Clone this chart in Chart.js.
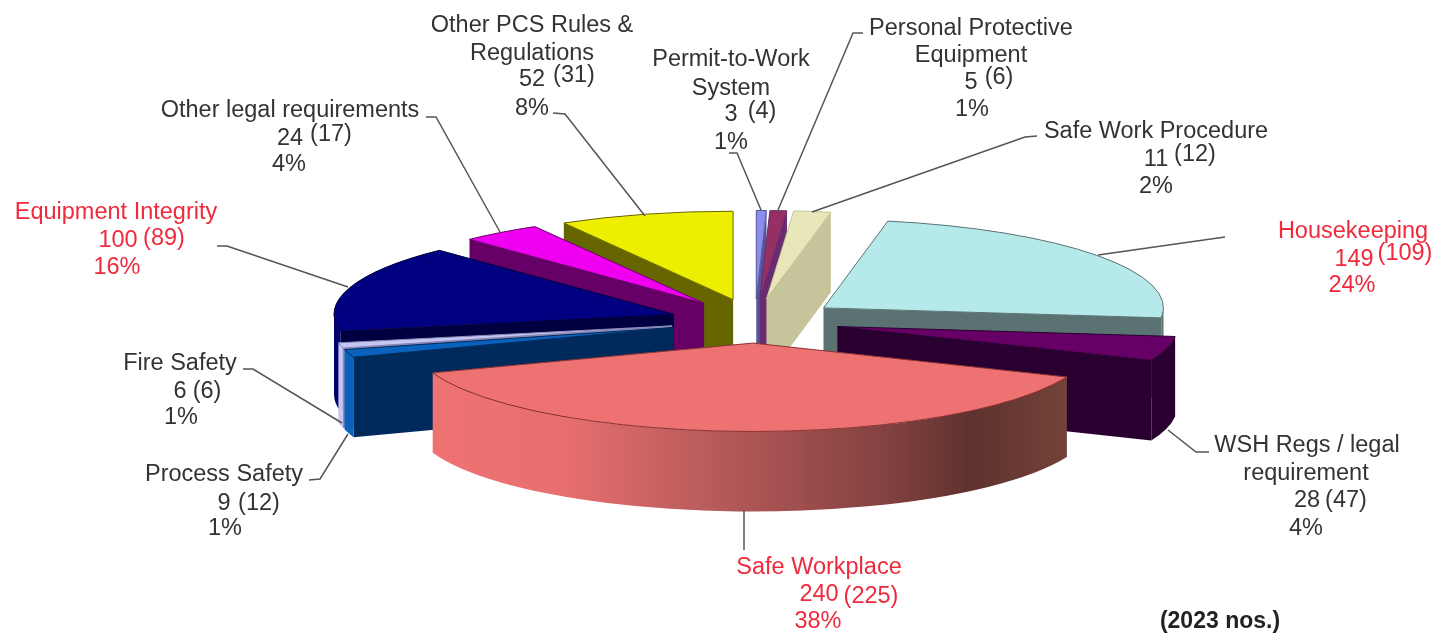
<!DOCTYPE html>
<html>
<head>
<meta charset="utf-8">
<title>Findings by category</title>
<script src="https://cdn.jsdelivr.net/npm/chart.js@4"></script>
<style>
  html, body { margin: 0; padding: 0; background: #fff; }
  canvas { display: block; filter: blur(0.5px); }
</style>
</head>
<body>
<canvas id="pie" width="1434" height="633"></canvas>
<script>
// data, clockwise from 12 o'clock
const categories = ['Permit-to-Work System', 'Personal Protective Equipment', 'Safe Work Procedure', 'Housekeeping', 'WSH Regs / legal requirement', 'Safe Workplace', 'Process Safety', 'Fire Safety', 'Equipment Integrity', 'Other legal requirements', 'Other PCS Rules & Regulations'];
const nameLines = [['Permit-to-Work', 'System'], ['Personal Protective', 'Equipment'], ['Safe Work Procedure'], ['Housekeeping'], ['WSH Regs / legal', 'requirement'], ['Safe Workplace'], ['Process Safety'], ['Fire Safety'], ['Equipment Integrity'], ['Other legal requirements'], ['Other PCS Rules &', 'Regulations']];
const counts = [3, 5, 11, 149, 28, 240, 9, 6, 100, 24, 52];
const prevCounts = [4, 6, 12, 109, 47, 225, 12, 6, 89, 17, 31];
const shares = ['1%', '1%', '2%', '24%', '4%', '38%', '1%', '1%', '16%', '4%', '8%'];
const footnote = '(2023 nos.)';

// colours
const topColors = ['#8c8cee', '#963064', '#e9e7b9', '#b6eaea', '#660066', '#ef7272', '#0a62bc', '#c6c6f4', '#000080', '#f000f0', '#eeee00'];
const wallColors = ['#55559a', '#6a2a70', '#c6c49a', '#5a7272', '#2a0030', '#8a3232', '#002a5c', '#8a8ab8', '#000040', '#660066', '#666600'];
const rimColors = ['#55559a', '#6a2a70', '#c6c49a', '#5a7272', '#2a0030', '#8a3232', '#0a62bc', '#c6c6f4', '#00006c', '#660066', '#666600'];
const redLabels = ['Housekeeping', 'Safe Workplace', 'Equipment Integrity'];

// label spots: [centre x, middle y]
const labelSpots = [
  { name: [[731, 60], [731, 89]], now: [731, 115], prev: [762, 112], pct: [731, 143] },
  { name: [[971, 29], [971, 56]], now: [971, 83], prev: [999, 78], pct: [972, 110] },
  { name: [[1156, 132]], now: [1156, 160], prev: [1195, 155], pct: [1156, 187] },
  { name: [[1353, 232]], now: [1354, 260], prev: [1405, 254], pct: [1352, 286] },
  { name: [[1307, 446], [1306, 474]], now: [1307, 501], prev: [1346, 501], pct: [1306, 529] },
  { name: [[819, 568]], now: [819, 595], prev: [871, 597], pct: [818, 622] },
  { name: [[224, 475]], now: [224, 504], prev: [259, 504], pct: [225, 529] },
  { name: [[180, 364]], now: [180, 392], prev: [207, 392], pct: [181, 418] },
  { name: [[116, 213]], now: [118, 241], prev: [164, 239], pct: [117, 268] },
  { name: [[290, 111]], now: [290, 139], prev: [331, 135], pct: [289, 165] },
  { name: [[532, 26], [532, 54]], now: [532, 80], prev: [574, 76], pct: [532, 109] }
];
const leaders = [
  [[729, 153], [737, 153], [761, 210]],
  [[863, 33], [853, 33], [778, 210]],
  [[1037, 136], [1025, 137], [812, 212]],
  [[1225, 237], [1098, 255]],
  [[1209, 452], [1196, 452], [1168, 430]],
  [[744, 550], [744, 510]],
  [[309, 480], [320, 479], [348, 434]],
  [[243, 369], [253, 369], [342, 423]],
  [[217, 246], [227, 246], [348, 287]],
  [[426, 117], [436, 117], [500, 232]],
  [[553, 113], [565, 114], [645, 216]]
];

const EXPLODE = 85;
const SQUASH = 0.26;
const DEPTH = 80;

// shading across the front wall of the biggest slice
function wallFill(ctx, i, left, right) {
  if (categories[i] !== 'Safe Workplace') return rimColors[i];
  const g = ctx.createLinearGradient(left, 0, right, 0);
  g.addColorStop(0, '#ef7272');
  g.addColorStop(0.2, '#e86f6f');
  g.addColorStop(0.45, '#b65a5a');
  g.addColorStop(0.7, '#864341');
  g.addColorStop(0.85, '#5f322f');
  g.addColorStop(1, '#744238');
  return g;
}

const pie3d = {
  id: 'pie3d',
  beforeDatasetsDraw() { return false; },
  afterDraw(chart) {
    const ctx = chart.ctx;
    const arcs = chart.getDatasetMeta(0).data;
    const order = arcs.map((_, i) => i).sort((a, b) => {
      const midA = (arcs[a].startAngle + arcs[a].endAngle) / 2;
      const midB = (arcs[b].startAngle + arcs[b].endAngle) / 2;
      return Math.sin(midA) - Math.sin(midB);
    });

    order.forEach(i => {
      const arc = arcs[i];
      const a0 = arc.startAngle, a1 = arc.endAngle, r = arc.outerRadius;
      const mid = (a0 + a1) / 2;
      const cx = arc.x + Math.cos(mid) * EXPLODE;
      const cy = arc.y + Math.sin(mid) * EXPLODE * SQUASH;
      const rimX = a => cx + Math.cos(a) * r;
      const rimY = a => cy + Math.sin(a) * r * SQUASH;

      // cut faces
      const cutFace = a => {
        ctx.beginPath();
        ctx.moveTo(cx, cy);
        ctx.lineTo(rimX(a), rimY(a));
        ctx.lineTo(rimX(a), rimY(a) + DEPTH);
        ctx.lineTo(cx, cy + DEPTH);
        ctx.closePath();
        ctx.fillStyle = wallColors[i];
        ctx.fill();
      };
      if (-Math.cos(a0) > 0) cutFace(a0);
      if (Math.cos(a1) > 0) cutFace(a1);

      // outer wall, only the part that faces us
      const lo = Math.max(a0, 0), hi = Math.min(a1, Math.PI);
      if (lo < hi) {
        ctx.beginPath();
        ctx.ellipse(cx, cy, r, r * SQUASH, 0, lo, hi);
        ctx.ellipse(cx, cy + DEPTH, r, r * SQUASH, 0, hi, lo, true);
        ctx.closePath();
        ctx.fillStyle = wallFill(ctx, i, Math.min(rimX(lo), rimX(hi)), Math.max(rimX(lo), rimX(hi)));
        ctx.fill();
      }

      // top face: the library's own arc, flattened
      ctx.save();
      ctx.translate(cx, cy);
      ctx.scale(1, SQUASH);
      ctx.translate(-arc.x, -arc.y);
      arc.draw(ctx);
      ctx.restore();

      // outline
      ctx.beginPath();
      ctx.moveTo(cx, cy);
      ctx.ellipse(cx, cy, r, r * SQUASH, 0, a0, a1);
      ctx.closePath();
      ctx.strokeStyle = wallColors[i];
      ctx.lineWidth = 1;
      ctx.stroke();
    });

    // leader lines
    ctx.strokeStyle = '#555';
    ctx.lineWidth = 1.5;
    leaders.forEach(pts => {
      ctx.beginPath();
      pts.forEach((p, k) => k ? ctx.lineTo(p[0], p[1]) : ctx.moveTo(p[0], p[1]));
      ctx.stroke();
    });

    // labels
    ctx.textAlign = 'center';
    ctx.textBaseline = 'middle';
    ctx.font = '23.5px "Liberation Sans"';
    categories.forEach((cat, i) => {
      const spot = labelSpots[i];
      ctx.fillStyle = redLabels.includes(cat) ? '#ee2a3c' : '#333';
      nameLines[i].forEach((line, k) => ctx.fillText(line, spot.name[k][0], spot.name[k][1]));
      ctx.fillText(String(counts[i]), spot.now[0], spot.now[1]);
      ctx.fillText('(' + prevCounts[i] + ')', spot.prev[0], spot.prev[1]);
      ctx.fillText(shares[i], spot.pct[0], spot.pct[1]);
    });
    ctx.fillStyle = '#222';
    ctx.font = 'bold 23px "Liberation Sans"';
    ctx.fillText(footnote, 1220, 622);
  }
};

new Chart(document.getElementById('pie').getContext('2d'), {
  type: 'pie',
  data: {
    labels: categories,
    datasets: [{ data: counts, backgroundColor: topColors, borderWidth: 0 }]
  },
  options: {
    responsive: false,
    animation: false,
    radius: 340,
    rotation: 0,
    layout: { padding: { left: 76, top: 9 } },
    plugins: { legend: { display: false }, tooltip: { enabled: false } }
  },
  plugins: [pie3d]
});
</script>
</body>
</html>
